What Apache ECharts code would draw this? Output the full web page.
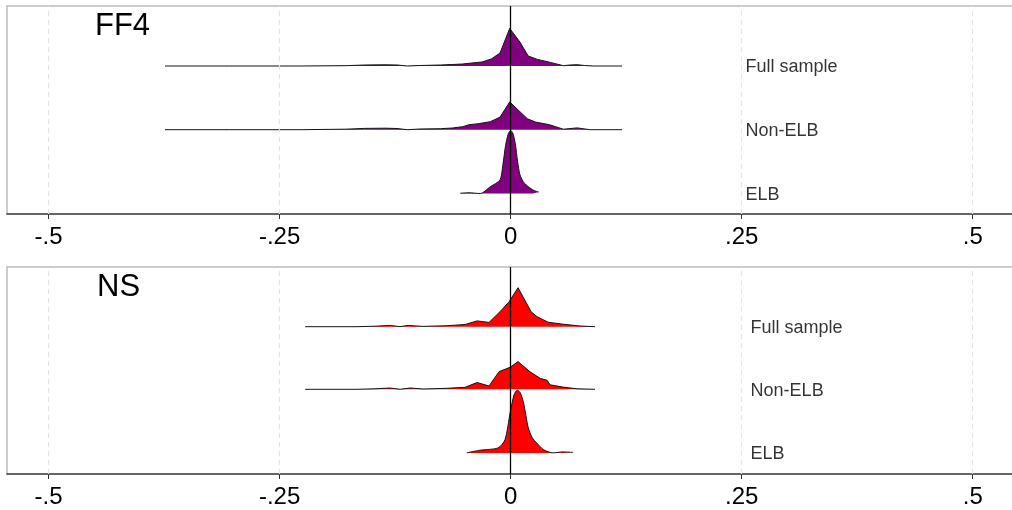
<!DOCTYPE html>
<html>
<head>
<meta charset="utf-8">
<script src="https://cdn.jsdelivr.net/npm/echarts@6/dist/echarts.min.js"></script>
<style>
  html, body { margin: 0; padding: 0; background: #fff; }
  #chart { width: 1012px; height: 510px; }
</style>
</head>
<body>
<div id="chart"></div>
<script>
// ---------- data ----------
const xTicks = [-0.5, -0.25, 0, 0.25, 0.5];
const ridgeNames = ['Full sample', 'Non-ELB', 'ELB'];
const panelTitles = ['FF4', 'NS'];

// FF4 densities (x grid + density)
const ff4FullX = [-0.374,-0.304,-0.228,-0.179,-0.158,-0.136,-0.123,-0.112,-0.098,-0.076,-0.063,-0.052,-0.042,-0.031,-0.021,-0.0115,-0.001,0.010,0.019,0.029,0.043,0.057,0.064,0.072,0.080,0.089,0.1205];
const ff4FullY = [0,0,0,0.15,0.5,0.6,0.5,0,0.25,0.5,0.75,1,1.5,2,3.5,6.5,18.8,12,5,3.3,1.8,0.15,0.5,0.65,0.25,0,0];

const ff4NonX = [-0.374,-0.304,-0.228,-0.179,-0.158,-0.136,-0.123,-0.112,-0.098,-0.076,-0.063,-0.052,-0.045,-0.035,-0.022,-0.0115,-0.001,0.018,0.027,0.042,0.057,0.072,0.086,0.1205];
const ff4NonY = [0,0,0,0.25,0.65,0.75,0.6,0,0.35,0.5,0.85,1.5,2.5,3,4,6.3,13.9,5.5,3.8,2.5,0.25,0.9,0,0];

const ff4ElbX = [-0.0545,-0.045,-0.033,-0.022,-0.0115,-0.0085,-0.0055,-0.0025,0.0,0.0025,0.005,0.0075,0.010,0.0135,0.017,0.024,0.0305];
const ff4ElbY = [0.15,0.35,0,3.4,6.8,14,24,30,31.5,30,25,16,9.5,6,4.2,1.8,0.7];

// NS densities
const nsFullX = [-0.2224,-0.1662,-0.1467,-0.1303,-0.1197,-0.1110,-0.0948,-0.0688,-0.0493,-0.0363,-0.0234,-0.0115,-0.0017,0.0080,0.0221,0.0286,0.0405,0.0567,0.0751,0.0913];
const nsFullY = [0,0,0.25,0.65,0,0.65,0.15,0.5,1.1,2.9,2.15,7.5,12.5,19.5,7.5,5,2.25,1.25,0.35,0];

const nsNonX = [-0.2224,-0.1662,-0.1467,-0.1303,-0.1197,-0.1088,-0.0948,-0.0688,-0.0493,-0.0363,-0.0234,-0.0125,-0.0006,0.0080,0.0210,0.0319,0.0394,0.0427,0.0567,0.0718,0.0913];
const nsNonY = [0,0,0.25,0.65,0,0.65,0.15,0.5,1,3.4,1.65,8.85,11,13.85,8.75,5.5,4.5,2.25,1.1,0.25,0];

const nsElbX = [-0.0475,-0.0331,-0.0136,-0.0061,-0.0006,0.0037,0.0072,0.0105,0.0140,0.0191,0.0235,0.0282,0.0354,0.0459,0.0567,0.0675];
const nsElbY = [0,1.35,2.5,6.65,20,29.15,31.35,30,25,12.5,7.5,5,1.65,0,0.5,0.25];

// ---------- layout / style ----------
const FONT = '"Liberation Sans", Arial, Helvetica, sans-serif';
const X_MIN = -0.545, X_MAX = 0.5425;
const panels = [
  { title: panelTitles[0], color: '#800080', top: 6, height: 208, span: 104, baselines: [74, 42.15, 10.25], labelX: 0.2536, titleLeft: 95, titleTop: 11,
    ridges: [[ff4FullX, ff4FullY], [ff4NonX, ff4NonY], [ff4ElbX, ff4ElbY]] },
  { title: panelTitles[1], color: '#ff0000', top: 267, height: 207, span: 103.5, baselines: [73.65, 42.35, 10.55], labelX: 0.2591, titleLeft: 97, titleTop: 272,
    ridges: [[nsFullX, nsFullY], [nsNonX, nsNonY], [nsElbX, nsElbY]] }
];

function fmtTick(v) {
  if (v === 0) return '0';
  return (v < 0 ? '-' : '') + String(Math.abs(v)).replace(/^0/, '');
}

const grid = [], xAxis = [], yAxis = [], series = [], title = [];
panels.forEach((p, pi) => {
  grid.push({ left: 7, right: 0, top: p.top, height: p.height, containLabel: false });
  title.push({ text: p.title, left: p.titleLeft, top: p.titleTop, padding: 0,
    textStyle: { fontSize: 31, fontWeight: 'normal', fontFamily: FONT, color: '#000' } });
  const xb = xAxis.length;
  xAxis.push({
    type: 'value', gridIndex: pi, position: 'bottom', min: X_MIN, max: X_MAX,
    axisLine: { show: true, onZero: false, lineStyle: { color: '#333', width: 1.5 } },
    axisTick: { show: true, customValues: xTicks, length: 5, lineStyle: { color: '#333', width: 1 } },
    axisLabel: { show: true, customValues: xTicks, formatter: fmtTick, fontSize: 24, color: '#000', fontFamily: FONT, margin: 11 },
    splitLine: { show: false }
  });
  xAxis.push({
    type: 'value', gridIndex: pi, position: 'top', min: X_MIN, max: X_MAX,
    axisLine: { show: true, onZero: false, lineStyle: { color: '#bdbdbd', width: 1.5 } },
    axisTick: { show: false }, axisLabel: { show: false }, splitLine: { show: false }
  });
  // border y axis (left frame)
  yAxis.push({
    type: 'value', gridIndex: pi, position: 'left', min: 0, max: 1,
    axisLine: { show: true, onZero: false, lineStyle: { color: '#bdbdbd', width: 1.5 } },
    axisTick: { show: false }, axisLabel: { show: false }, splitLine: { show: false }
  });
  p.ridges.forEach((r, ri) => {
    const yi = yAxis.length;
    yAxis.push({ type: 'value', gridIndex: pi, show: false, min: -p.baselines[ri], max: p.span - p.baselines[ri],
      axisLine: { onZero: false }, splitLine: { show: false } });
    const s = {
      type: 'line', name: p.title + ' ' + ridgeNames[ri],
      xAxisIndex: xb, yAxisIndex: yi,
      data: r[0].map((v, i) => [v, r[1][i]]),
      showSymbol: false, symbol: 'none', silent: true, animation: false,
      smooth: ri === 2 ? 0.25 : false,
      lineStyle: { color: '#141414', width: 1 },
      areaStyle: { color: p.color, opacity: 1 },
      z: 2
    };
    if (ri === 0) {
      s.markLine = {
        silent: true, animation: false, symbol: ['none', 'none'], label: { show: false },
        data: xTicks.map(v => v === 0
          ? { xAxis: v, lineStyle: { color: '#000', type: 'solid', width: 1.3 } }
          : { xAxis: v, lineStyle: { color: '#e4e4e4', type: [5, 4], width: 1.2 } })
      };
    }
    series.push(s);
    series.push({
      type: 'scatter', xAxisIndex: xb, yAxisIndex: yi, silent: true, animation: false,
      data: [[p.labelX, 0]], symbolSize: 1, itemStyle: { color: 'rgba(0,0,0,0)' },
      label: { show: true, position: 'right', distance: 0, offset: [0, 1.5], formatter: ridgeNames[ri],
        fontSize: 18, color: '#000', fontFamily: FONT },
      z: 6
    });
  });
});

const chart = echarts.init(document.getElementById('chart'), null, { renderer: 'canvas' });
chart.setOption({
  backgroundColor: '#fff',
  animation: false,
  title, grid, xAxis, yAxis, series
});
</script>
</body>
</html>
